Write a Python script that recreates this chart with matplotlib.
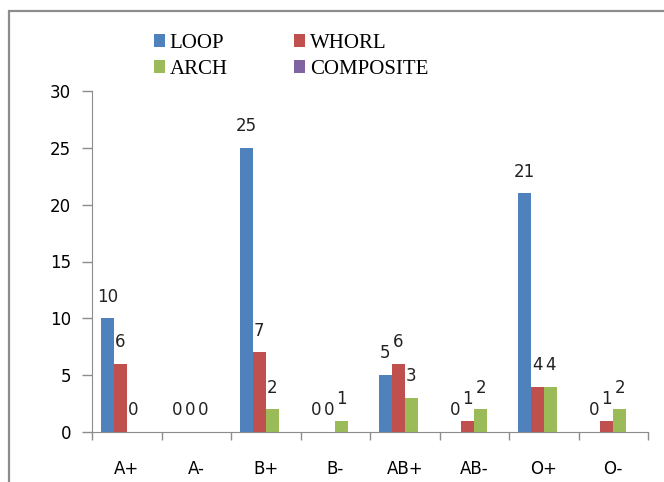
import matplotlib.pyplot as plt
import numpy as np
from matplotlib.patches import Rectangle

# ── дані
blood_groups = ["A+", "A-", "B+", "B-", "AB+", "AB-", "O+", "O-"]
loop = [10, 0, 25, 0, 5, 0, 21, 0]
whorl = [6, 0, 7, 0, 6, 1, 4, 1]
arch = [0, 0, 2, 1, 3, 2, 4, 2]
composite = [np.nan] * 8  # порожня серія — лише в легенді

series_names = ["LOOP", "WHORL", "ARCH", "COMPOSITE"]
series_values = [loop, whorl, arch, composite]
series_colors = ["#4F81BD", "#C0504D", "#9BBB59", "#8064A2"]

plt.rcParams["font.family"] = ["DejaVu Sans"]

fig = plt.figure(figsize=(6.64, 4.82), dpi=100)
ax = fig.add_axes([92 / 664, 50 / 482, 556 / 664, 341 / 482])

# ---- рамка навколо всього графіку
fig.patches.append(
    Rectangle((9 / 664, -0.1), 1.2, 1.1 - 11 / 482,
              transform=fig.transFigure, fill=False,
              edgecolor="#8C8C8C", linewidth=1.6)
)

x = np.arange(len(blood_groups))
w = 0.1875
handles = []
for i, (name, vals, col) in enumerate(zip(series_names, series_values, series_colors)):
    bars = ax.bar(x + (i - 1.5) * w, vals, width=w, color=col, label=name)
    handles.append(bars)
    for xi, v in zip(x + (i - 1.5) * w, vals):
        if np.isnan(v):
            continue
        ax.annotate(f"{v:g}", (xi, v), xytext=(0, 12), textcoords="offset points",
                    ha="center", va="baseline", fontsize=12, color="#222222")

ax.set_xlim(-0.5, len(blood_groups) - 0.5)
ax.set_ylim(0, 30)
ax.set_yticks(range(0, 31, 5))

# категорії по центру, засічки на межах груп
ax.set_xticks(x)
ax.set_xticklabels(blood_groups)
ax.tick_params(axis="x", which="major", length=0, pad=20, labelsize=12)
ax.set_xticks(np.arange(-0.5, len(blood_groups)), minor=True)
ax.tick_params(axis="x", which="minor", length=6, width=1, color="#8C8C8C", direction="out")
ax.tick_params(axis="y", length=7, width=1, color="#8C8C8C", pad=8, labelsize=12)

for side in ("top", "right"):
    ax.spines[side].set_visible(False)
for side in ("left", "bottom"):
    ax.spines[side].set_color("#8C8C8C")

# легенда: рядок 1 — LOOP, WHORL; рядок 2 — ARCH, COMPOSITE
order = [0, 2, 1, 3]
fig.legend([handles[k] for k in order], [series_names[k] for k in order],
           ncol=2, loc="upper left", bbox_to_anchor=(135 / 664, 1 - 15 / 482),
           frameon=False, prop={"family": "Liberation Serif", "size": 15},
           handlelength=0.55, handleheight=0.55, handletextpad=0.2,
           columnspacing=3.2, labelspacing=0.33)

fig.savefig("out.png", dpi=100)
